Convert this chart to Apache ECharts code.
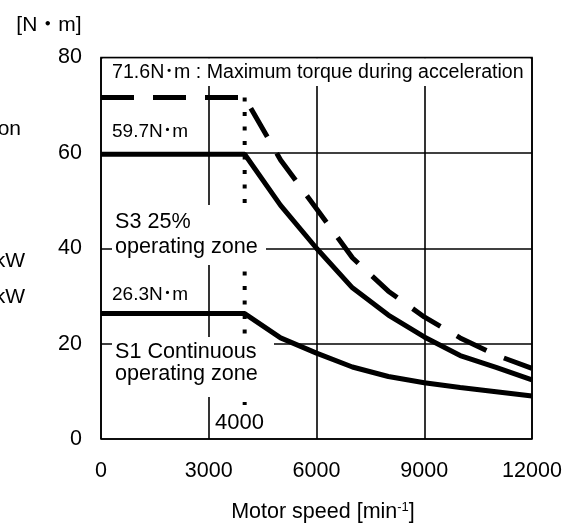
<!DOCTYPE html>
<html>
<head>
<meta charset="utf-8">
<script src="https://cdn.jsdelivr.net/npm/echarts@6/dist/echarts.min.js"></script>
<style>
html,body{margin:0;padding:0;background:#fff;}
#c{width:565px;height:525px;}
</style>
</head>
<body>
<div id="c"></div>
<script>
// ---- data ----
const speeds = [0, 4000, 5000, 6000, 7000, 8000, 9000, 10000, 11000, 12000];
const maxTorque = [71.6, 71.6, 58.5, 48.3, 38, 31, 25.6, 21.2, 17.6, 14.8];
const s3Torque = [59.7, 59.7, 49, 40, 31.7, 26, 21.4, 17.5, 15, 12.4];
const s1Torque = [26.3, 26.3, 21.2, 18, 15.1, 13.1, 11.8, 10.8, 9.9, 9.0];
const baseSpeedLine = [[4000, 71.6], [4000, 0]];
const xTicks = [0, 3000, 6000, 9000, 12000];
const yTicks = [0, 20, 40, 60, 80];

const FONT = '"Liberation Sans", Arial, "Noto Sans CJK JP", sans-serif';
const pair = (xs, ys) => xs.map((x, i) => [x, ys[i]]);

const chart = echarts.init(document.getElementById('c'), null, {renderer: 'canvas'});

function txt(text, x, y, size, align, z) {
  return {type: 'text', z: z || 10, style: {text: text, x: x, y: y, font: size + 'px ' + FONT, fill: '#000',
    textAlign: align || 'left', textVerticalAlign: 'middle', align: align || 'left', verticalAlign: 'middle'}};
}
function box(x1, y1, x2, y2) {
  return {type: 'rect', z: 3, shape: {x: x1, y: y1, width: x2 - x1, height: y2 - y1}, style: {fill: '#fff'}, silent: true};
}

const option = {
  animation: false,
  backgroundColor: '#fff',
  grid: {left: 101, right: 33, top: 57.5, bottom: 86, show: true, borderColor: '#000', borderWidth: 1.6, backgroundColor: 'transparent'},
  xAxis: {
    type: 'value', min: 0, max: 12000, interval: 3000,
    axisLine: {show: false}, axisTick: {show: false},
    axisLabel: {margin: 21, color: '#000', fontSize: 21.5, fontFamily: FONT,
      formatter: v => xTicks.indexOf(v) >= 0 ? String(v) : ''},
    splitLine: {show: true, lineStyle: {color: '#000', width: 1.6}}
  },
  yAxis: {
    type: 'value', min: 0, max: 80, interval: 20,
    axisLine: {show: false}, axisTick: {show: false},
    axisLabel: {margin: 19, color: '#000', fontSize: 21.5, fontFamily: FONT,
      formatter: v => yTicks.indexOf(v) >= 0 ? String(v) : ''},
    splitLine: {show: true, lineStyle: {color: '#000', width: 1.6}}
  },
  series: [
    {type: 'line', z: 2, data: baseSpeedLine, symbol: 'none', lineStyle: {color: '#000', width: 4, type: [4, 10.5]}},
    {type: 'line', z: 4, data: pair(speeds, maxTorque), symbol: 'none', lineStyle: {color: '#000', width: 5, type: [33, 19]}},
    {type: 'line', z: 4, data: pair(speeds, s3Torque), symbol: 'none', lineStyle: {color: '#000', width: 5}},
    {type: 'line', z: 4, data: pair(speeds, s1Torque), symbol: 'none', lineStyle: {color: '#000', width: 5}}
  ],
  graphic: [
    box(102.5, 58.5, 530.5, 86),
    box(112, 205, 266, 265),
    box(112, 337, 274, 397),
    box(213, 405, 268, 437.5),
    txt('71.6N･m : Maximum torque during acceleration', 112, 73, 19.6),
    txt('59.7N･m', 112, 132, 19),
    txt('S3 25%', 115, 222, 21.6),
    txt('operating zone', 115, 247, 21.6),
    txt('26.3N･m', 112, 295, 19),
    txt('S1 Continuous', 115, 352, 21.6),
    txt('operating zone', 115, 374, 21.6),
    txt('4000', 215, 423, 22),
    txt('[N・m]', 49, 25, 21, 'center'),
    txt('on', 21, 129, 21, 'right'),
    txt('kW', 25, 261, 21, 'right'),
    txt('kW', 25, 297, 21, 'right'),
    {type: 'text', z: 10, style: {
      text: '{a|Motor speed [min}{s|-1}{a|]}', x: 323, y: 512,
      textAlign: 'center', textVerticalAlign: 'middle', align: 'center', verticalAlign: 'middle',
      fill: '#000', font: '21.5px ' + FONT,
      rich: {a: {fontSize: 21.5, fontFamily: FONT, fill: '#000', color: '#000'},
             s: {fontSize: 13, fontFamily: FONT, fill: '#000', color: '#000', verticalAlign: 'top'}}
    }}
  ]
};
chart.setOption(option);
</script>
</body>
</html>
